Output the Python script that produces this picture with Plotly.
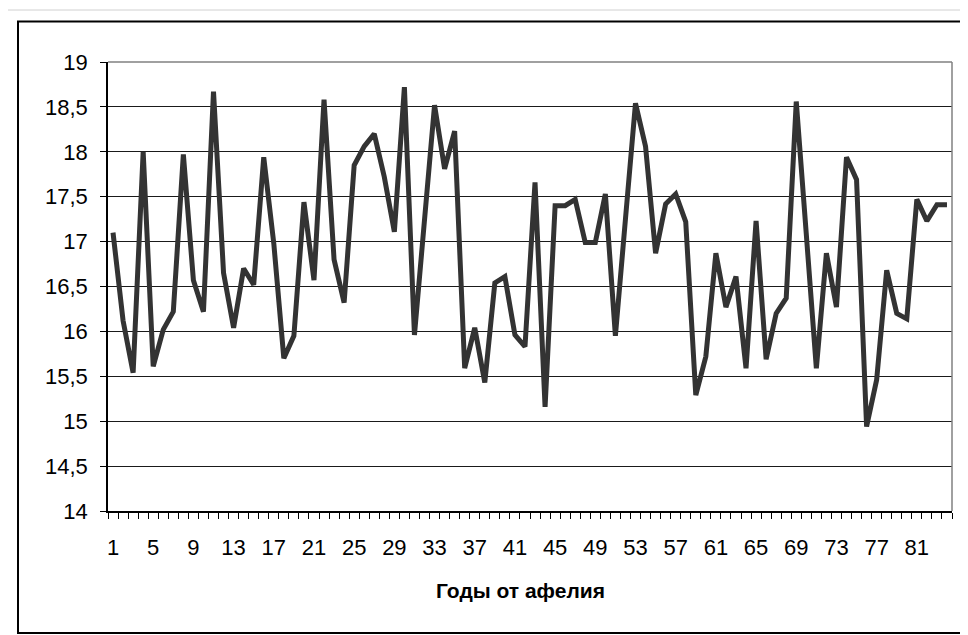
#!/usr/bin/env python3
"""Line chart: values by aphelion year (Excel-style look)."""
import plotly.graph_objects as go

# x categories 1..84
years = list(range(1, 85))

values = [
    17.10, 16.12, 15.54, 18.00, 15.61, 16.02, 16.22, 17.97, 16.57, 16.22,
    18.67, 16.65, 16.04, 16.70, 16.52, 17.94, 16.98, 15.70, 15.95, 17.44,
    16.57, 18.58, 16.80, 16.32, 17.85, 18.06, 18.20, 17.72, 17.11, 18.72,
    15.96, 17.25, 18.52, 17.81, 18.23, 15.59, 16.04, 15.43, 16.54, 16.61,
    15.96, 15.83, 17.66, 15.16, 17.40, 17.40, 17.47, 16.99, 16.99, 17.53,
    15.95, 17.25, 18.54, 18.06, 16.87, 17.42, 17.53, 17.22, 15.29, 15.72,
    16.87, 16.27, 16.61, 15.59, 17.23, 15.69, 16.20, 16.37, 18.56, 17.08,
    15.59, 16.87, 16.27, 17.94, 17.69, 14.94, 15.46, 16.68, 16.20, 16.14,
    17.47, 17.23, 17.41, 17.41,
]

x_title = "Годы от афелия"

FONT = "Liberation Sans, Arial, sans-serif"
LINE_COLOR = "#333333"

# page body has an 8px margin, so the figure is drawn 8px in from the corner
OFF = 8
W, H = 968 - OFF, 635 - OFF
L, R, T, B = 108 - OFF, 16, 62 - OFF, 124
PW, PH = W - L - R, H - T - B


def px(x):
    """screen x (reference pixels) -> paper coordinate"""
    return (x - OFF - L) / PW


def py(y):
    """screen y (reference pixels) -> paper coordinate"""
    return (H - B - (y - OFF)) / PH


fig = go.Figure()
fig.add_trace(go.Scatter(
    x=years, y=values,
    mode="lines",
    line=dict(color=LINE_COLOR, width=5),
    hoverinfo="x+y",
    showlegend=False,
))

shapes = [
    # plot-area border: top and right in gray
    dict(type="line", xref="paper", yref="paper", x0=0, x1=1, y0=1, y1=1,
         line=dict(color="#808080", width=1.5)),
    dict(type="line", xref="paper", yref="paper", x0=1, x1=1, y0=0, y1=1,
         line=dict(color="#808080", width=1.5)),
    # outer chart frame (black)
    dict(type="path", xref="paper", yref="paper",
         path=f"M {px(985)} {py(21.5)} L {px(18)} {py(21.5)} "
              f"L {px(18)} {py(633)} L {px(985)} {py(633)}",
         line=dict(color="#000000", width=2)),
    # light gray sheet edge
    dict(type="path", xref="paper", yref="paper",
         path=f"M {px(985)} {py(10)} L {px(6)} {py(10)} L {px(6)} {py(650)}",
         line=dict(color="#d0d0d0", width=1)),
]

fig.update_layout(
    width=W, height=H,
    margin=dict(l=L, r=R, t=T, b=B, pad=0),
    paper_bgcolor="white",
    plot_bgcolor="white",
    separators=", ",
    font=dict(family=FONT, size=22, color="#000000"),
    shapes=shapes,
    annotations=[
        dict(text=f"<b>{x_title}</b>", xref="paper", yref="paper",
             x=px(520), y=py(590), xanchor="center", yanchor="middle",
             showarrow=False, font=dict(family=FONT, size=21, color="#000000")),
    ],
)

fig.update_xaxes(
    type="linear",
    range=[0.5, 84.5],
    tickmode="linear", tick0=1, dtick=4,
    ticks="", showgrid=False, zeroline=False,
    showline=True, linecolor="#000000", linewidth=1.5,
    tickfont=dict(family=FONT, size=22),
    ticklabelstandoff=16,
    minor=dict(ticks="outside", tickmode="linear", tick0=0.5, dtick=1,
               ticklen=6, tickcolor="#000000", tickwidth=1, showgrid=False),
)

fig.update_yaxes(
    range=[14, 19],
    tickmode="linear", tick0=14, dtick=0.5,
    ticks="outside", ticklen=6, tickcolor="#000000", tickwidth=1,
    showgrid=True, gridcolor="#1a1a1a", gridwidth=1,
    zeroline=False,
    showline=True, linecolor="#000000", linewidth=1.5,
    tickfont=dict(family=FONT, size=22),
    ticklabelstandoff=8,
)

fig.write_html("out.html")
